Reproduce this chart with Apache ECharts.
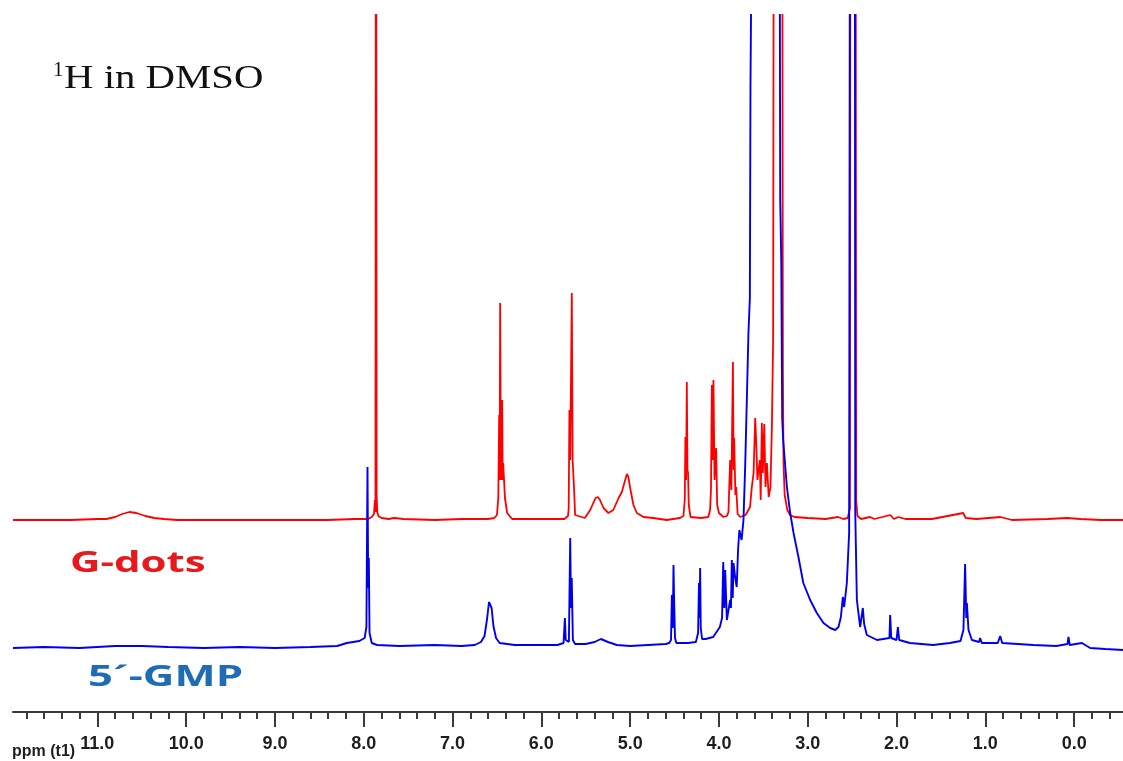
<!DOCTYPE html>
<html>
<head>
<meta charset="utf-8">
<script src="https://cdn.jsdelivr.net/npm/echarts@6/dist/echarts.min.js"></script>
<style>
html,body{margin:0;padding:0;background:#fff;}
#chart{width:1123px;height:761px;}
</style>
</head>
<body>
<div id="chart"></div>
<script>
// ---- Axis (chemical shift, ppm) ----
const PPM_LEFT = 11.95;
const PPM_RIGHT = -0.55;
const MAJOR_TICKS = [11, 10, 9, 8, 7, 6, 5, 4, 3, 2, 1, 0];
const MAJOR_LABELS = ['11.0', '10.0', '9.0', '8.0', '7.0', '6.0', '5.0', '4.0', '3.0', '2.0', '1.0', '0.0'];
const AXIS_NAME = 'ppm (t1)';
const TITLE_SUP = '1';
const TITLE_MAIN = 'H in DMSO';
const SERIES_NAMES = ['G-dots', '5\u00B4-GMP'];

// ---- Vertical stacking offsets of the two traces (arbitrary intensity units) ----
const GDOTS_OFFSET = 192;
const GMP_OFFSET = 64;
const INTENSITY_MAX = 697;

// ---- G-dots spectrum: [ppm, intensity above its baseline] ----
const gdotsSpectrum = [
[11.95,0],[11.3,0],[11.0,1],[10.9,1],[10.8,3],[10.72,6],[10.64,8],[10.56,7],[10.46,4],[10.36,2],[10.25,1],[10.1,0],
[9.5,0],[8.9,0],[8.45,0],[8.43,2],[8.41,0],[8.1,1],[7.95,1],[7.91,3],[7.885,6],[7.875,20],[7.868,8],[7.862,1000],
[7.855,25],[7.848,8],[7.835,4],[7.80,2],[7.72,1],[7.66,2],[7.55,1],[7.2,0],[6.9,1],[6.6,1],[6.53,2],[6.50,5],
[6.485,22],[6.475,105],[6.47,40],[6.464,217],[6.455,40],[6.441,120],[6.436,40],[6.43,57],[6.41,22],[6.385,7],[6.33,1],
[6.1,1],[5.9,1],[5.74,1],[5.70,4],[5.692,12],[5.684,110],[5.675,60],[5.657,227],[5.648,60],[5.631,30],[5.62,5],[5.60,3],
[5.51,2],[5.45,10],[5.39,22],[5.364,23],[5.34,20],[5.30,12],[5.245,7],[5.19,10],[5.13,22],[5.094,28],[5.056,40],
[5.037,46],[5.02,43],[5.0,32],[4.963,15],[4.925,7],[4.85,3],[4.74,2],[4.59,0],[4.44,2],[4.40,4],[4.385,20],[4.378,83],
[4.37,40],[4.362,138],[4.355,50],[4.348,47],[4.34,15],[4.32,3],[4.2,2],[4.12,3],[4.10,10],[4.09,30],[4.08,135],
[4.072,60],[4.062,140],[4.05,40],[4.032,72],[4.02,15],[4.0,7],[3.95,3],[3.91,4],[3.893,8],[3.874,60],[3.86,30],
[3.843,158],[3.835,50],[3.829,82],[3.815,25],[3.806,33],[3.79,6],[3.76,3],[3.70,5],[3.65,13],[3.63,33],[3.61,47],
[3.592,102],[3.58,77],[3.567,40],[3.54,60],[3.53,20],[3.517,97],[3.506,47],[3.49,96],[3.476,33],[3.46,57],[3.44,23],
[3.42,33],[3.404,93],[3.39,180],[3.375,1200],[3.35,1500],[3.32,1500],[3.295,1200],[3.28,150],[3.273,57],[3.26,25],
[3.23,10],[3.20,5],[3.15,3],[3.0,2],[2.8,1],[2.66,3],[2.6,1],[2.55,2],[2.525,12],[2.512,1500],[2.49,1500],[2.468,1500],
[2.455,20],[2.44,4],[2.40,1],[2.30,3],[2.25,1],[2.07,5],[2.03,1],[1.98,3],[1.9,1],[1.6,1],[1.25,7],[1.22,2],[1.20,3],
[1.1,1],[0.83,3],[0.7,0],[0.3,1],[0.08,2],[-0.07,1],[-0.3,0],[-0.55,0]
];

// ---- 5'-GMP spectrum: [ppm, intensity above its baseline] ----
const gmpSpectrum = [
[11.95,0],[11.6,1],[11.2,0],[10.8,2],[10.5,2],[10.2,1],[9.8,0],[9.4,1],[9.0,0],[8.6,1],[8.3,2],[8.19,5],[8.05,7],
[7.99,10],[7.97,21],[7.958,181],[7.95,60],[7.943,90],[7.935,15],[7.91,5],[7.85,3],[7.6,2],[7.2,3],[6.9,2],[6.75,3],
[6.68,6],[6.64,12],[6.61,30],[6.59,46],[6.578,48],[6.56,40],[6.54,22],[6.51,10],[6.47,5],[6.3,3],[6.0,3],[5.82,3],
[5.75,5],[5.735,30],[5.725,8],[5.69,6],[5.675,110],[5.666,40],[5.658,70],[5.645,8],[5.62,4],[5.5,4],[5.4,6],[5.33,9],
[5.25,6],[5.15,3],[5.0,2],[4.8,3],[4.6,4],[4.56,5],[4.54,8],[4.53,53],[4.52,20],[4.512,83],[4.505,48],[4.495,10],
[4.48,5],[4.35,5],[4.26,6],[4.235,15],[4.225,65],[4.218,30],[4.212,80],[4.205,20],[4.19,9],[4.15,9],[4.065,11],
[3.99,21],[3.965,30],[3.952,86],[3.94,40],[3.93,78],[3.911,28],[3.874,48],[3.865,40],[3.855,88],[3.845,50],[3.836,85],
[3.818,71],[3.80,61],[3.785,98],[3.77,118],[3.745,108],[3.724,128],[3.705,181],[3.686,248],[3.668,315],[3.652,350],
[3.645,562],[3.625,800],[3.55,1500],[3.45,1800],[3.36,2000],[3.32,900],[3.31,448],[3.298,385],[3.288,230],[3.277,208],
[3.235,161],[3.198,135],[3.16,115],[3.105,91],[3.05,65],[2.973,48],[2.898,35],[2.823,25],[2.748,20],[2.69,18],
[2.654,21],[2.627,31],[2.605,51],[2.59,41],[2.56,65],[2.534,115],[2.515,1500],[2.49,1800],[2.475,1500],[2.465,135],
[2.447,48],[2.41,21],[2.38,40],[2.365,24],[2.335,13],[2.22,8],[2.08,10],[2.072,33],[2.06,10],[2.0,8],[1.985,21],
[1.97,8],[1.85,5],[1.59,3],[1.40,5],[1.28,7],[1.247,18],[1.228,84],[1.215,30],[1.208,45],[1.19,18],[1.152,8],
[1.07,6],[1.059,10],[1.04,5],[0.86,5],[0.833,12],[0.81,5],[0.46,3],[0.2,2],[0.075,4],[0.064,11],[0.05,3],
[-0.087,5],[-0.18,0],[-0.35,-1],[-0.55,-2]
];

// minor ticks every 0.2 ppm between the labelled ones
const minorTicks = [];
for (let k = -2; k <= 59; k++) {
  const v = Math.round(k * 2) / 10;
  if (k % 5 !== 0 && v <= PPM_LEFT && v >= PPM_RIGHT) minorTicks.push(v);
}

const chart = echarts.init(document.getElementById('chart'), null, {renderer: 'canvas'});
const axisColor = '#3a3a3a';
const baseX = {
  type: 'value', inverse: true, min: PPM_RIGHT, max: PPM_LEFT,
  position: 'bottom', offset: 0, splitLine: {show: false}
};
chart.setOption({
  backgroundColor: '#ffffff',
  animation: false,
  grid: {left: 13, right: 0, top: 15, bottom: 49, containLabel: false},
  xAxis: [
    Object.assign({}, baseX, {
      axisLine: {show: true, lineStyle: {color: axisColor, width: 2}},
      axisTick: {show: true, length: 15, customValues: MAJOR_TICKS, lineStyle: {color: axisColor, width: 2}},
      axisLabel: {
        show: true, customValues: MAJOR_TICKS, margin: 23,
        color: '#1e1e1e', fontFamily: 'Liberation Sans, Arial, sans-serif', fontWeight: 'bold', fontSize: 18,
        formatter: function (v) { const i = MAJOR_TICKS.indexOf(v); return i >= 0 ? MAJOR_LABELS[i] : ''; }
      }
    }),
    Object.assign({}, baseX, {
      axisLine: {show: false},
      axisTick: {show: true, length: 7, customValues: minorTicks, lineStyle: {color: axisColor, width: 2}},
      axisLabel: {show: false}
    })
  ],
  yAxis: {type: 'value', min: 0, max: INTENSITY_MAX, show: false, splitLine: {show: false}},
  series: [
    {
      name: SERIES_NAMES[0], type: 'line', xAxisIndex: 0, showSymbol: false, symbol: 'none', clip: true,
      lineStyle: {color: '#ff0000', width: 1.8}, itemStyle: {color: '#ff0000'},
      data: gdotsSpectrum.map(p => [p[0], p[1] + GDOTS_OFFSET]), z: 2
    },
    {
      name: SERIES_NAMES[1], type: 'line', xAxisIndex: 0, showSymbol: false, symbol: 'none', clip: true,
      lineStyle: {color: '#0000ee', width: 1.9}, itemStyle: {color: '#0000ee'},
      data: gmpSpectrum.map(p => [p[0], p[1] + GMP_OFFSET]), z: 3
    }
  ],
  graphic: [
    {type: 'text', x: 53, y: 60, style: {text: TITLE_SUP, x: 0, y: 0, font: '21px "Liberation Serif", serif', fill: '#111', align: 'left', verticalAlign: 'top', textAlign: 'left', textVerticalAlign: 'top'}},
    {type: 'text', x: 64, y: 79, scaleX: 1.2, style: {text: TITLE_MAIN, x: 0, y: 0, font: '34px "Liberation Serif", serif', fill: '#111', align: 'left', verticalAlign: 'middle', textAlign: 'left', textVerticalAlign: 'middle'}},
    {type: 'text', x: 70, y: 564, scaleX: 1.5, style: {text: SERIES_NAMES[0], x: 0, y: 0, font: 'bold 28px "Open Sans", sans-serif', fill: '#e8191c', align: 'left', verticalAlign: 'middle', textAlign: 'left', textVerticalAlign: 'middle'}},
    {type: 'text', x: 88, y: 678, scaleX: 1.56, style: {text: SERIES_NAMES[1], x: 0, y: 0, font: 'bold 28px "Open Sans", sans-serif', fill: '#1f6cb4', align: 'left', verticalAlign: 'middle', textAlign: 'left', textVerticalAlign: 'middle'}},
    {type: 'text', x: 12, y: 752, style: {text: AXIS_NAME, x: 0, y: 0, font: 'bold 16px "Liberation Sans", Arial, sans-serif', fill: '#1e1e1e', align: 'left', verticalAlign: 'middle', textAlign: 'left', textVerticalAlign: 'middle'}}
  ]
});
</script>
</body>
</html>
